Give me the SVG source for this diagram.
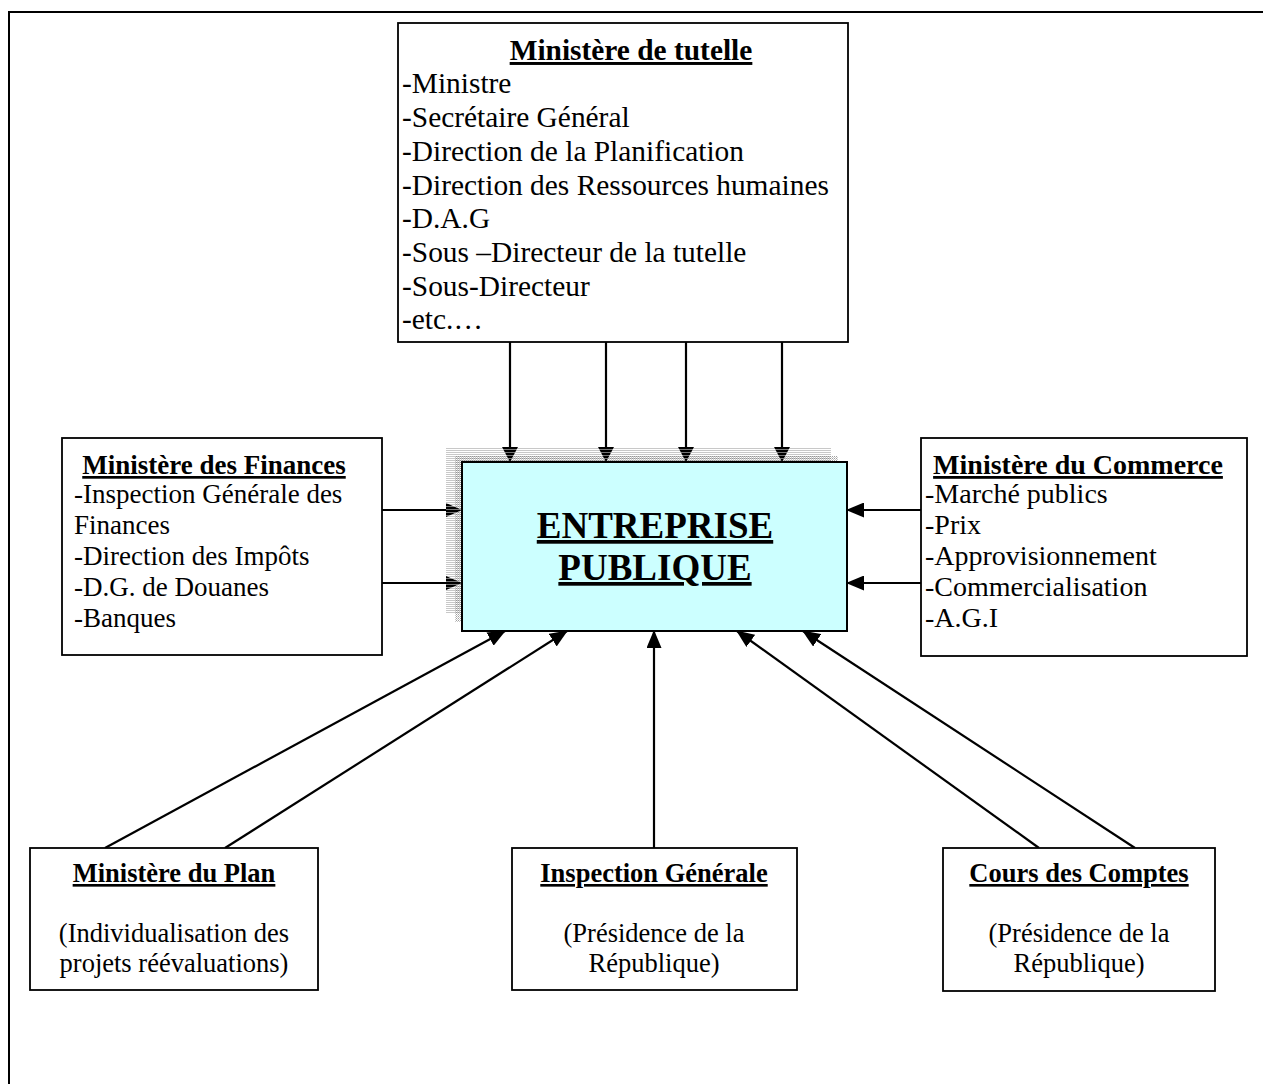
<svg xmlns="http://www.w3.org/2000/svg" width="1263" height="1084" viewBox="0 0 1263 1084">
<style>
.box{fill:#fff;stroke:#000;stroke-width:1.8}
.t{font-family:"Liberation Serif","Times New Roman",serif;fill:#000}
.b{font-weight:bold;text-decoration:underline}
.m{text-anchor:middle}
.c{stroke:#000;stroke-width:2.2;fill:none}
.sh{fill:url(#st)}
</style>
<defs>
<pattern id="st" x="0" y="0" width="4" height="3" patternUnits="userSpaceOnUse">
<rect x="0" y="0" width="4" height="2" fill="#000"/>
<rect x="0" y="2" width="4" height="1" fill="#777"/>
</pattern>
<marker id="ah" markerUnits="userSpaceOnUse" markerWidth="18" markerHeight="15" refX="17" refY="7.5" orient="auto">
<path d="M0,0 L18,7.5 L0,15 z" fill="#000"/>
</marker>
<pattern id="lt" width="4" height="2" patternUnits="userSpaceOnUse">
<rect x="0" y="0" width="4" height="1" fill="#c8c8c8"/>
</pattern>
<pattern id="dk" width="2" height="2" patternUnits="userSpaceOnUse">
<rect x="0" y="0" width="1" height="1" fill="#888"/>
<rect x="1" y="1" width="1" height="1" fill="#bbb"/>
</pattern>
</defs>
<rect width="1263" height="1084" fill="#fff"/>
<g id="frame"><path d="M9,1084 L9,12 L1263,12" fill="none" stroke="#000" stroke-width="2"/></g>

<g id="shadow">
<rect x="446" y="448" width="385" height="165" fill="url(#lt)"/>
<rect x="455" y="456" width="383" height="166" fill="url(#dk)" opacity="0.8"/>
</g>

<g id="connectors">
<line class="c" x1="510" y1="342" x2="510" y2="450"/>
<line class="c" x1="606" y1="342" x2="606" y2="450"/>
<line class="c" x1="686" y1="342" x2="686" y2="450"/>
<line class="c" x1="782" y1="342" x2="782" y2="450"/>
<polygon class="sh" points="502,447 518,447 510,462"/>
<polygon class="sh" points="598,447 614,447 606,462"/>
<polygon class="sh" points="678,447 694,447 686,462"/>
<polygon class="sh" points="774,447 790,447 782,462"/>
<line class="c" x1="382" y1="510" x2="450" y2="510"/>
<line class="c" x1="382" y1="583" x2="450" y2="583"/>
<polygon class="sh" points="446,503 446,517 462,510"/>
<polygon class="sh" points="446,576 446,590 462,583"/>
<line class="c" x1="921" y1="510" x2="847" y2="510" marker-end="url(#ah)"/>
<line class="c" x1="921" y1="583" x2="847" y2="583" marker-end="url(#ah)"/>
<line class="c" x1="105" y1="848" x2="505" y2="631" marker-end="url(#ah)"/>
<line class="c" x1="225" y1="848" x2="567" y2="631" marker-end="url(#ah)"/>
<line class="c" x1="654" y1="848" x2="654" y2="631" marker-end="url(#ah)"/>
<line class="c" x1="1039" y1="848" x2="737" y2="631" marker-end="url(#ah)"/>
<line class="c" x1="1135" y1="848" x2="803" y2="631" marker-end="url(#ah)"/>
</g>

<g id="entreprise">
<rect x="462" y="462" width="385" height="169" fill="#ccffff" stroke="#000" stroke-width="2"/>
<text class="t b m" x="655" y="538" font-size="37">ENTREPRISE</text>
<text class="t b m" x="655" y="580" font-size="37">PUBLIQUE</text>
</g>

<g id="tutelle">
<rect class="box" x="398" y="23" width="450" height="319"/>
<text class="t b m" x="631" y="60" font-size="29.4">Ministère de tutelle</text>
<g class="t" font-size="29.4">
<text x="402" y="93">-Ministre</text>
<text x="402" y="127">-Secrétaire Général</text>
<text x="402" y="161">-Direction de la Planification</text>
<text x="402" y="195">-Direction des Ressources humaines</text>
<text x="402" y="228">-D.A.G</text>
<text x="402" y="262">-Sous –Directeur de la tutelle</text>
<text x="402" y="296">-Sous-Directeur</text>
<text x="402" y="329">-etc.…</text>
</g>
</g>

<g id="finances">
<rect class="box" x="62" y="438" width="320" height="217"/>
<text class="t b m" x="214" y="474" font-size="27">Ministère des Finances</text>
<g class="t" font-size="27">
<text x="74" y="503">-Inspection Générale des</text>
<text x="74" y="534">Finances</text>
<text x="74" y="565">-Direction des Impôts</text>
<text x="74" y="596">-D.G. de Douanes</text>
<text x="74" y="627">-Banques</text>
</g>
</g>

<g id="commerce">
<rect class="box" x="921" y="438" width="326" height="218"/>
<text class="t b m" x="1078" y="474" font-size="28">Ministère du Commerce</text>
<g class="t" font-size="28">
<text x="925" y="503">-Marché publics</text>
<text x="925" y="534">-Prix</text>
<text x="925" y="565">-Approvisionnement</text>
<text x="925" y="596">-Commercialisation</text>
<text x="925" y="627">-A.G.I</text>
</g>
</g>

<g id="plan">
<rect class="box" x="30" y="848" width="288" height="142"/>
<text class="t b m" x="174" y="882" font-size="26.5">Ministère du Plan</text>
<text class="t m" x="174" y="942" font-size="26.5">(Individualisation des</text>
<text class="t m" x="174" y="972" font-size="26.5">projets réévaluations)</text>
</g>

<g id="inspection">
<rect class="box" x="512" y="848" width="285" height="142"/>
<text class="t b m" x="654" y="882" font-size="26.5">Inspection Générale</text>
<text class="t m" x="654" y="942" font-size="26.5">(Présidence de la</text>
<text class="t m" x="654" y="972" font-size="26.5">République)</text>
</g>

<g id="cours">
<rect class="box" x="943" y="848" width="272" height="143"/>
<text class="t b m" x="1079" y="882" font-size="26.5">Cours des Comptes</text>
<text class="t m" x="1079" y="942" font-size="26.5">(Présidence de la</text>
<text class="t m" x="1079" y="972" font-size="26.5">République)</text>
</g>
</svg>
